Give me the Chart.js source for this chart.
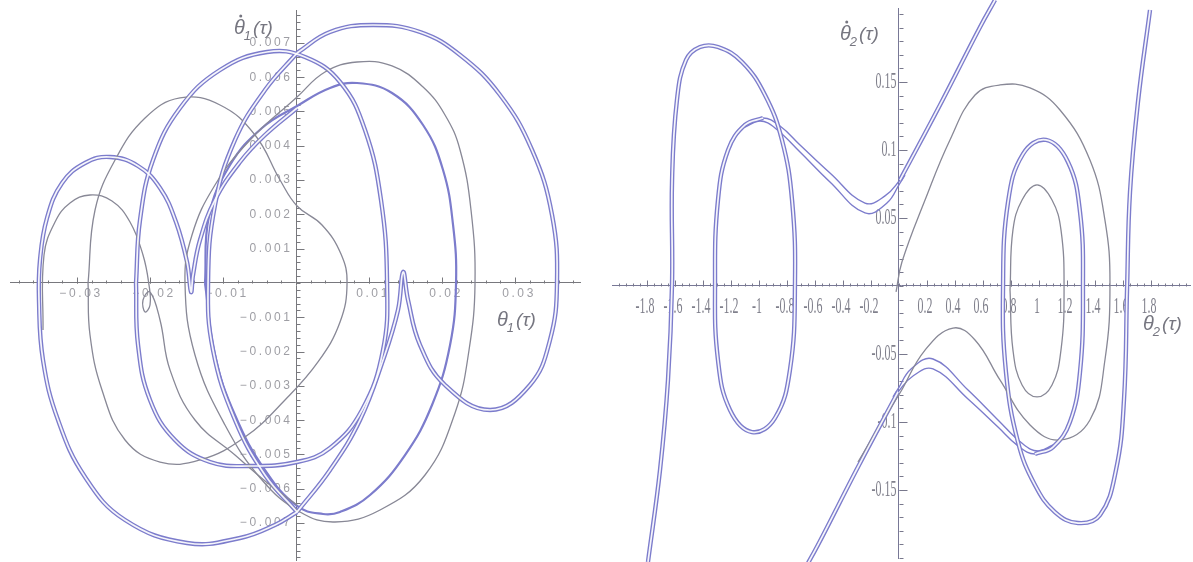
<!DOCTYPE html>
<html>
<head>
<meta charset="utf-8">
<script src="https://cdn.jsdelivr.net/npm/chart.js@4.4.0/dist/chart.umd.min.js"></script>
<style>
  html, body { margin: 0; padding: 0; background: #fff; }
  #wrap { position: relative; width: 1193px; height: 562px; overflow: hidden; background: #fff; }
  canvas { position: absolute; top: 0; }
  #c1 { left: 0; }
  #c2 { left: 600px; }
</style>
</head>
<body>
<div id="wrap">
  <canvas id="c1" width="592" height="562"></canvas>
  <canvas id="c2" width="593" height="562"></canvas>
</div>
<script>
// ---------- θ1 phase portrait: trajectory strands [θ1, dθ1/dτ] ----------
const th1LeftLobe = [[0.00014,0.005102],[-0.00425,0.004315],[-0.00767,0.003528],[-0.0111,0.00242],[-0.01315,0.001254],[-0.01411,0.000233],[-0.01438,-0.000262],[-0.01493,0.000612],[-0.01644,0.001778],[-0.01863,0.00277],[-0.02164,0.003411],[-0.02548,0.003673],[-0.0289,0.003499],[-0.03205,0.002915],[-0.03411,0.001895],[-0.03507,0.000671],[-0.03521,-0.000496],[-0.03466,-0.002245],[-0.0326,-0.003994],[-0.0289,-0.005656],[-0.02342,-0.00691],[-0.01493,-0.00758],[-0.00767,-0.007434],[-0.00288,-0.007055],[0.00014,-0.006676]];
const th1RightLobe = [[0.00014,-0.006676],[0.00466,-0.005452],[0.00877,-0.003994],[0.01192,-0.002245],[0.01397,-0.000787],[0.01466,0.000321],[0.01534,-0.000496],[0.01699,-0.001808],[0.02041,-0.002974],[0.02658,-0.003703],[0.03205,-0.002974],[0.03479,-0.001662],[0.03575,0],[0.03507,0.001983],[0.03233,0.003878],[0.02795,0.005481],[0.02247,0.006647],[0.01699,0.007318],[0.01055,0.007522],[0.00466,0.007318],[0.00014,0.006706]];
const th1CentralArc = [[0.00014,0.006706],[-0.00425,0.005627],[-0.00836,0.004169],[-0.0111,0.002274],[-0.01205,0],[-0.01137,-0.001953],[-0.00836,-0.003994],[-0.00425,-0.005598],[0.00014,-0.006676]];
const th1LoopA = [[-0.02192,0],[-0.02137,0.001837],[-0.01959,0.003586],[-0.01589,0.005102],[-0.01041,0.00621],[-0.00397,0.006735],[0.00123,0.006589],[0.00603,0.00586],[0.00945,0.004461],[0.01164,0.00242],[0.01247,0],[0.01192,-0.001953],[0.00904,-0.003703],[0.00466,-0.00481],[0.00014,-0.005219],[-0.0063,-0.005335],[-0.01178,-0.005219],[-0.01658,-0.004577],[-0.02,-0.003411],[-0.02164,-0.001808],[-0.02192,0]];
const th1LoopB = [[-0.01247,0],[-0.01192,0.001953],[-0.00904,0.00344],[-0.00466,0.004519],[0.00014,0.00516],[0.00466,0.005685],[0.00836,0.005831],[0.01315,0.005539],[0.0174,0.004606],[0.02014,0.003294],[0.02151,0.001691],[0.02192,0],[0.0211,-0.001808],[0.01863,-0.003557],[0.01493,-0.005015],[0.01014,-0.006181],[0.00603,-0.006676],[0.0037,-0.006735],[0.00014,-0.006501],[-0.00425,-0.005452],[-0.00836,-0.003848],[-0.0111,-0.002099],[-0.01247,0]];
const th1GrayA = [[-0.02849,0],[-0.02753,0.002128],[-0.02479,0.003586],[-0.02068,0.00481],[-0.01589,0.005394],[-0.01041,0.00519],[-0.00562,0.004315],[-0.00219,0.003003],[0.00014,0.002245],[0.00356,0.001691],[0.00616,0.000845],[0.00699,0],[0.00603,-0.001137],[0.00301,-0.002303],[-0.00151,-0.003411],[-0.00699,-0.00449],[-0.01315,-0.00516],[-0.01863,-0.005219],[-0.02342,-0.004577],[-0.02658,-0.00312],[-0.02822,-0.001516],[-0.02849,0]];
const th1GrayB = [[0.00014,0.005423],[0.00397,0.006152],[0.00836,0.006443],[0.01315,0.006327],[0.0174,0.005714],[0.02041,0.004898],[0.02247,0.003878],[0.02397,0.002128],[0.02452,0],[0.0237,-0.001953],[0.02178,-0.00379],[0.01767,-0.005598],[0.01151,-0.006618],[0.00534,-0.006968],[0.00055,-0.006676],[-0.00466,-0.005743],[-0.00973,-0.00414],[-0.01384,-0.002099],[-0.01521,0],[-0.01425,0.001399],[-0.0111,0.002857],[-0.0063,0.004169],[0.00014,0.005423]];
const th1GraySmall = [[-0.03466,-0.00137],[-0.03452,0.000816],[-0.03301,0.001778],[-0.03096,0.002332],[-0.02822,0.002566],[-0.02521,0.002391],[-0.02274,0.001778],[-0.02096,0.000816],[-0.02014,-0.0000583],[-0.02,-0.000641],[-0.02068,-0.000845],[-0.02096,-0.000496],[-0.02,-0.000262],[-0.01863,-0.001079],[-0.01726,-0.002536],[-0.01384,-0.003994],[-0.00836,-0.005015],[-0.00356,-0.005889],[0.00014,-0.006472]];

// ---------- θ2 phase portrait: trajectory strands [θ2, dθ2/dτ] ----------
const th2RiseUpper = [[0.686,0.2103],[0.579,0.1904],[0.293,0.1331],[0.007,0.0779]];
const th2HumpUpper1 = [[0.043,0.0838],[0.007,0.0779],[-0.1,0.0662],[-0.243,0.061],[-0.493,0.0831],[-0.707,0.1037],[-0.85,0.1176],[-0.971,0.1235],[-1.1,0.1184]];
const th2HumpUpper2 = [[0.043,0.0816],[0.007,0.0757],[-0.086,0.061],[-0.243,0.0537],[-0.493,0.0765],[-0.707,0.0985],[-0.886,0.1162],[-0.993,0.1213],[-1.1,0.1169]];
const th2LeftLoops = [[-0.971,0.1235],[-1.1,0.1184],[-1.221,0.1],[-1.293,0.0632],[-1.314,0.0022],[-1.293,-0.0544],[-1.207,-0.0912],[-1.05,-0.1074],[-0.886,-0.0971],[-0.779,-0.0618],[-0.743,0.0022],[-0.764,0.0632],[-0.836,0.1074],[-0.957,0.1404],[-1.121,0.1647],[-1.293,0.1757],[-1.421,0.1757],[-1.521,0.1662],[-1.586,0.1368],[-1.621,0.0779],[-1.621,0.0022],[-1.65,-0.0691],[-1.707,-0.1353],[-1.793,-0.2029]];
const th2RiseLower = [[-0.686,-0.2103],[-0.579,-0.1904],[-0.293,-0.1331],[-0.007,-0.0779]];
const th2HumpLower1 = [[-0.043,-0.0838],[-0.007,-0.0779],[0.1,-0.0662],[0.243,-0.061],[0.493,-0.0831],[0.707,-0.1037],[0.85,-0.1176],[0.971,-0.1235],[1.1,-0.1184]];
const th2HumpLower2 = [[-0.043,-0.0816],[-0.007,-0.0757],[0.086,-0.061],[0.243,-0.0537],[0.493,-0.0765],[0.707,-0.0985],[0.886,-0.1162],[0.993,-0.1213],[1.1,-0.1169]];
const th2RightLoops = [[0.971,-0.1235],[1.1,-0.1184],[1.221,-0.1],[1.293,-0.0632],[1.314,-0.0022],[1.293,0.0544],[1.207,0.0912],[1.05,0.1074],[0.886,0.0971],[0.779,0.0618],[0.743,-0.0022],[0.764,-0.0632],[0.85,-0.1147],[0.971,-0.1463],[1.114,-0.1662],[1.279,-0.1743],[1.436,-0.1684],[1.55,-0.1353],[1.607,-0.0838],[1.629,-0.0022],[1.65,0.0691],[1.707,0.1353],[1.793,0.2029]];
const th2GrayInner = [[0.793,-0.0029],[0.814,0.0412],[0.879,0.0632],[0.986,0.0743],[1.093,0.0632],[1.157,0.0412],[1.179,-0.0029],[1.157,-0.0471],[1.093,-0.0728],[0.986,-0.0816],[0.879,-0.0728],[0.814,-0.0471],[0.793,-0.0029]];
const th2GrayOuter = [[-0.021,-0.0044],[0.021,0.0176],[0.186,0.0632],[0.364,0.1074],[0.543,0.1404],[0.721,0.1478],[0.936,0.1456],[1.15,0.1294],[1.364,0.0926],[1.471,0.0485],[1.507,0.0022],[1.471,-0.0544],[1.364,-0.0985],[1.15,-0.1132],[0.936,-0.1022],[0.721,-0.0691],[0.543,-0.0397],[0.386,-0.0309],[0.186,-0.0471],[0.007,-0.0787],[-0.114,-0.0985],[-0.221,-0.1169],[-0.293,-0.1294]];

// ---------- tick values ----------
const th1TicksX = [-0.03, -0.02, -0.01, 0.01, 0.02, 0.03];
const th1TicksY = [-0.007, -0.006, -0.005, -0.004, -0.003, -0.002, -0.001, 0.001, 0.002, 0.003, 0.004, 0.005, 0.006, 0.007];
const th2TicksX = [-1.8, -1.6, -1.4, -1.2, -1, -0.8, -0.6, -0.4, -0.2, 0.2, 0.4, 0.6, 0.8, 1, 1.2, 1.4, 1.6, 1.8];
const th2TicksY = [-0.15, -0.1, -0.05, 0.05, 0.1, 0.15];

const BLUE = 'rgb(124,124,204)';
const GRAY = 'rgb(136,136,150)';

function strand(data, color, width, order) {
  return { data, borderColor: color, borderWidth: width, order, showLine: true,
           pointRadius: 0, pointHoverRadius: 0, tension: 0.42, clip: false, fill: false };
}
// a pair of close passes rendered as a double blue line
function doubleStrand(data) {
  return [strand(data, BLUE, 4.4, 3), strand(data, 'rgba(255,255,255,0.92)', 1.7, 0)];
}

function drawTitle(ctx, x, y, sub, dotted, color) {
  ctx.save();
  ctx.fillStyle = color;
  ctx.textBaseline = 'alphabetic';
  ctx.textAlign = 'left';
  ctx.font = 'italic 20px "Liberation Sans", Arial, sans-serif';
  ctx.fillText('θ', x, y);
  const w = ctx.measureText('θ').width;
  if (dotted) {
    ctx.beginPath();
    ctx.arc(x + w * 0.62, y - 18, 1.5, 0, Math.PI * 2);
    ctx.fill();
  }
  ctx.font = 'italic 13px "Liberation Sans", Arial, sans-serif';
  ctx.fillText(sub, x + w - 1, y + 6);
  const ws = ctx.measureText(sub).width;
  ctx.font = 'italic 19px "Liberation Sans", Arial, sans-serif';
  ctx.fillText('(τ)', x + w + ws + 1, y);
  ctx.restore();
}

function axisDecor(o) {
  return {
    id: 'axisDecor',
    beforeDatasetsDraw(chart) {
      const { ctx } = chart;
      const sx = chart.scales.x, sy = chart.scales.y;
      const ox = Math.round(sx.getPixelForValue(0)) + 0.5;
      const oy = Math.round(sy.getPixelForValue(0)) + 0.5;
      ctx.save();
      ctx.strokeStyle = o.tickColor;
      ctx.lineWidth = 1;
      ctx.beginPath();
      for (let k = Math.ceil(sx.min / o.xMinor); k <= Math.floor(sx.max / o.xMinor); k++) {
        const p = Math.round(sx.getPixelForValue(k * o.xMinor)) + 0.5;
        ctx.moveTo(p, oy); ctx.lineTo(p, oy - o.xMinorLen);
      }
      for (let k = Math.ceil(sy.min / o.yMinor); k <= Math.floor(sy.max / o.yMinor); k++) {
        const p = Math.round(sy.getPixelForValue(k * o.yMinor)) + 0.5;
        ctx.moveTo(ox, p); ctx.lineTo(ox + o.yMinorLen, p);
      }
      o.ticksX.forEach(v => {
        const p = Math.round(sx.getPixelForValue(v)) + 0.5;
        ctx.moveTo(p, oy); ctx.lineTo(p, oy - o.xMajorLen);
      });
      o.ticksY.forEach(v => {
        const p = Math.round(sy.getPixelForValue(v)) + 0.5;
        ctx.moveTo(ox, p); ctx.lineTo(ox + o.yMajorLen, p);
      });
      ctx.stroke();

      ctx.fillStyle = o.labelColor;
      ctx.font = o.font;
      if ('letterSpacing' in ctx) ctx.letterSpacing = o.spacing;
      ctx.textBaseline = 'middle';
      const put = (txt, x, y, align) => {
        ctx.save();
        ctx.translate(x, y);
        ctx.scale(o.squeeze, 1);
        ctx.textAlign = align;
        ctx.fillText(txt, 0, 0);
        ctx.restore();
      };
      o.ticksX.forEach(v => put(o.fmt(v), sx.getPixelForValue(v) + o.xLabelDx, oy + o.xLabelDy, 'center'));
      o.ticksY.forEach(v => put(o.fmt(v), ox + o.yLabelDx, sy.getPixelForValue(v), 'right'));
      ctx.restore();

      drawTitle(ctx, o.yTitle[0], o.yTitle[1], o.sub, true, o.titleColor);
      drawTitle(ctx, o.xTitle[0], o.xTitle[1], o.sub, false, o.titleColor);
    }
  };
}

function baseOptions(xr, yr, pad, axisColor) {
  return {
    responsive: false,
    animation: false,
    events: [],
    layout: { padding: pad },
    elements: { line: { capBezierPoints: false } },
    plugins: { legend: { display: false }, tooltip: { enabled: false } },
    scales: {
      x: { type: 'linear', min: xr[0], max: xr[1], position: { y: 0 },
           grid: { display: false }, ticks: { display: false },
           border: { display: true, color: axisColor, width: 1 } },
      y: { type: 'linear', min: yr[0], max: yr[1], position: { x: 0 },
           grid: { display: false }, ticks: { display: false },
           border: { display: true, color: axisColor, width: 1 } }
    }
  };
}

const fmtMinus = v => (v < 0 ? '\u2212' : '') + String(Math.abs(v));

new Chart(document.getElementById('c1'), {
  type: 'scatter',
  data: {
    datasets: [
      ...doubleStrand(th1LeftLobe),
      ...doubleStrand(th1RightLobe),
      ...doubleStrand(th1CentralArc),
      ...doubleStrand(th1LoopA),
      strand(th1LoopB, BLUE, 2.2, 2),
      strand(th1GrayA, GRAY, 1.3, 1),
      strand(th1GrayB, GRAY, 1.3, 1),
      strand(th1GraySmall, GRAY, 1.3, 1)
    ]
  },
  options: baseOptions([-0.03918, 0.0389], [-0.008076, 0.007959], { left: 10, right: 12, top: 10, bottom: 2 }, 'rgb(120,120,125)'),
  plugins: [axisDecor({
    ticksX: th1TicksX, ticksY: th1TicksY, xMinor: 0.002, yMinor: 0.0002,
    xMinorLen: 3, xMajorLen: 6, yMinorLen: 4, yMajorLen: 8, tickColor: 'rgb(120,120,125)',
    font: '12px "Liberation Sans", Arial, sans-serif', spacing: '2.6px', squeeze: 1,
    labelColor: 'rgb(158,158,164)', fmt: fmtMinus,
    xLabelDx: 4, xLabelDy: 10, yLabelDx: -4,
    sub: '1', yTitle: [234, 34], xTitle: [497, 326], titleColor: 'rgb(118,118,128)'
  })]
});

new Chart(document.getElementById('c2'), {
  type: 'scatter',
  data: {
    datasets: [
      ...doubleStrand(th2RiseUpper),
      ...doubleStrand(th2LeftLoops),
      ...doubleStrand(th2RiseLower),
      ...doubleStrand(th2RightLoops),
      strand(th2HumpUpper1, BLUE, 1.4, 2),
      strand(th2HumpUpper2, BLUE, 1.4, 2),
      strand(th2HumpLower1, BLUE, 1.4, 2),
      strand(th2HumpLower2, BLUE, 1.4, 2),
      strand(th2GrayInner, GRAY, 1.3, 1),
      strand(th2GrayOuter, GRAY, 1.3, 1)
    ]
  },
  options: baseOptions([-2.05, 2.0786], [-0.2, 0.2044], { left: 12, right: 3, top: 8, bottom: 4 }, 'rgb(120,120,150)'),
  plugins: [axisDecor({
    ticksX: th2TicksX, ticksY: th2TicksY, xMinor: 0.05, yMinor: 0.01,
    xMinorLen: 3, xMajorLen: 6, yMinorLen: 4, yMajorLen: 8, tickColor: 'rgb(120,120,140)',
    font: '23px "Liberation Serif", "Times New Roman", serif', spacing: '0px', squeeze: 0.52,
    labelColor: 'rgb(128,128,140)', fmt: v => String(v),
    xLabelDx: -2, xLabelDy: 20, yLabelDx: -3,
    sub: '2', yTitle: [240, 40], xTitle: [543, 330], titleColor: 'rgb(118,118,128)'
  })]
});
</script>
</body>
</html>
